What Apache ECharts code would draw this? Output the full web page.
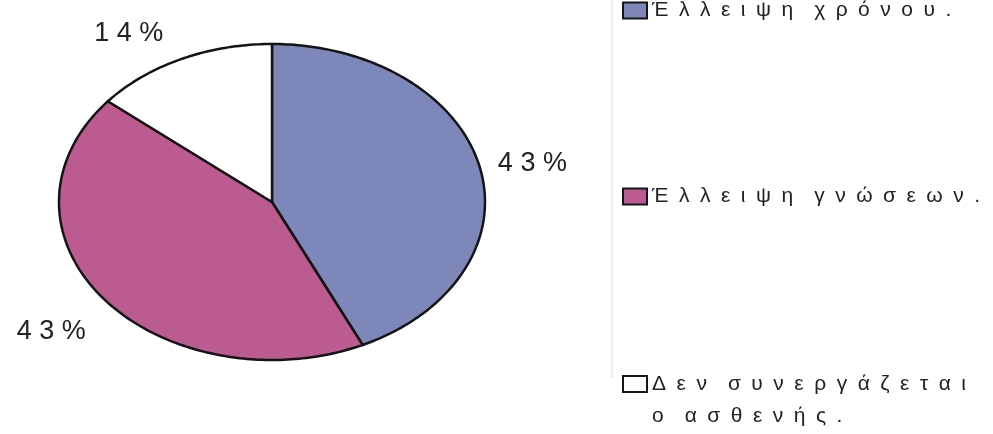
<!DOCTYPE html>
<html>
<head>
<meta charset="utf-8">
<script src="https://cdn.jsdelivr.net/npm/echarts@6/dist/echarts.min.js"></script>
<style>
  html, body { margin: 0; padding: 0; background: #ffffff; }
  #chart { width: 993px; height: 434px; }
</style>
</head>
<body>
<div id="chart"></div>
<script>
// Reasons given, with their shares (percent)
const categories = ['Έλλειψη χρόνου.', 'Έλλειψη γνώσεων.', 'Δεν συνεργάζεται\nο ασθενής.'];
const values = [43, 43, 14];
const colors = ['#7e87b9', '#bb5b8f', '#ffffff'];

const total = values.reduce((a, b) => a + b, 0);

// Elliptical pie geometry
const CX = 272, CY = 202, RX = 213, RY = 158;
const LABEL_H = 18, LABEL_ABOVE = 12, LABEL_BELOW = 19;
const FONT = '"Liberation Sans", Arial, Helvetica, sans-serif';

// Wide letter spacing used by the legend texts
const LETTER_GAP = '\u2002';
const WORD_GAP = '\u2002\u2002';
function spaced(text) {
  return text.split('\n')
    .map(line => line.split(' ').map(w => Array.from(w).join(LETTER_GAP)).join(WORD_GAP))
    .join('\n');
}
function spacedLabel(text) {
  return Array.from(text).join(' ');
}

function renderSlice(params, api) {
  const i = params.seriesIndex;
  const before = values.slice(0, i).reduce((a, b) => a + b, 0);
  const v = api.value(0);
  const a0 = before / total * Math.PI * 2;
  const a1 = (before + v) / total * Math.PI * 2;
  const n = Math.max(2, Math.ceil((a1 - a0) / (Math.PI / 180)));
  const pts = [[CX, CY]];
  for (let k = 0; k <= n; k++) {
    const t = a0 + (a1 - a0) * k / n;
    pts.push([CX + RX * Math.sin(t), CY - RY * Math.cos(t)]);
  }
  // Label placed just outside the rim at the middle of the slice
  const mid = (a0 + a1) / 2;
  const s = Math.sin(mid), c = Math.cos(mid);
  const ex = CX + RX * s, ey = CY - RY * c;
  let lx = ex, ly = ey, align = 'center', valign = 'middle';
  if (s > 0.3) { lx = ex + LABEL_H; align = 'left'; }
  else if (s < -0.3) { lx = ex - LABEL_H; align = 'right'; }
  if (c > 0.3) { ly = ey - LABEL_ABOVE; valign = 'bottom'; }
  else if (c < -0.3) { ly = ey + LABEL_BELOW; valign = 'top'; }
  else { ly = ey - LABEL_BELOW * c; }
  return {
    type: 'group',
    children: [
      {
        type: 'polygon',
        shape: { points: pts },
        style: { fill: colors[i], stroke: '#141414', lineWidth: 2.5, lineJoin: 'round' }
      },
      {
        type: 'text',
        x: lx,
        y: ly,
        style: {
          text: spacedLabel(Math.round(v / total * 100) + '%'),
          fill: '#222222',
          font: '27px ' + FONT,
          align: align,
          verticalAlign: valign
        }
      }
    ]
  };
}

// Multi-line entries keep their first line level with the swatch
function legendText(name) {
  const t = spaced(name);
  return name.indexOf('\n') >= 0 ? '\n' + t : t;
}

const legendTops = [0, 186, 336];

const option = {
  animation: false,
  backgroundColor: '#ffffff',
  legend: categories.map((name, i) => ({
    data: [name],
    orient: 'vertical',
    left: 622,
    top: legendTops[i],
    padding: 0,
    selectedMode: false,
    icon: 'rect',
    itemWidth: 24,
    itemHeight: 16,
    itemStyle: { borderColor: '#161616', borderWidth: 2 },
    formatter: legendText,
    textStyle: {
      fontSize: 21,
      fontFamily: FONT,
      color: '#222222',
      lineHeight: i === 2 ? 32 : 20
    }
  })),
  graphic: [{
    type: 'line',
    silent: true,
    shape: { x1: 612, y1: 0, x2: 612, y2: 378 },
    style: { stroke: '#ececec', lineWidth: 2 }
  }],
  series: categories.map((name, i) => ({
    type: 'custom',
    name: name,
    coordinateSystem: 'none',
    itemStyle: { color: colors[i] },
    renderItem: renderSlice,
    data: [values[i]]
  }))
};

const chart = echarts.init(document.getElementById('chart'), null, { renderer: 'canvas' });
chart.setOption(option);
</script>
</body>
</html>
